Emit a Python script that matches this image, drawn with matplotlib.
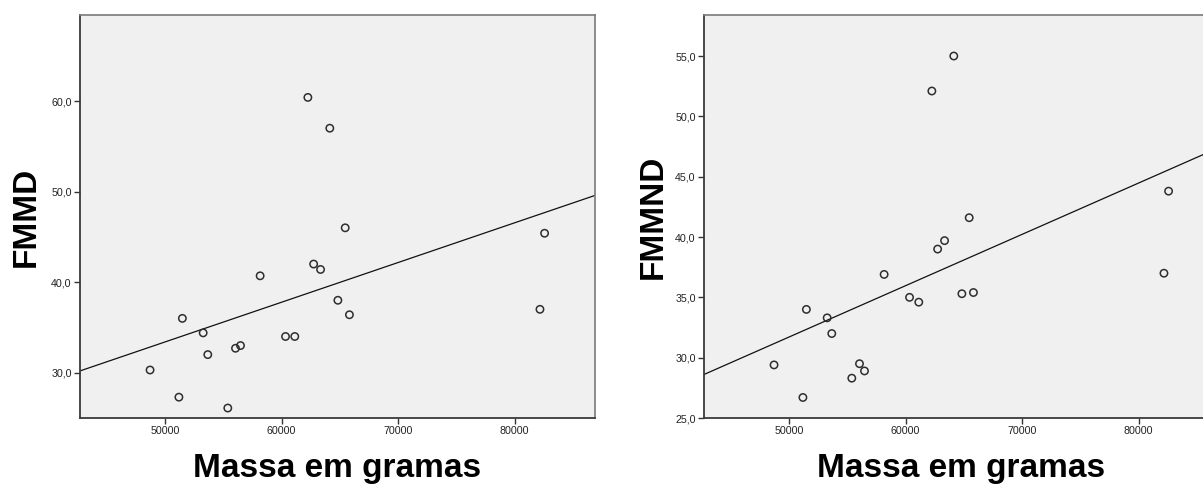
import numpy as np
import matplotlib
matplotlib.use('Agg')
import matplotlib.pyplot as plt
from matplotlib.ticker import FuncFormatter

plt.rcParams['font.family'] = ['Liberation Sans', 'DejaVu Sans']

# Data
massa = [48712, 51189, 51487, 53271, 53667, 55385, 56046, 56475, 58160, 60340,
         61133, 62256, 62752, 63346, 64139, 64833, 65461, 65824, 82176, 82573]
fmmd = [30.3, 27.3, 36.0, 34.4, 32.0, 26.1, 32.7, 33.0, 40.7, 34.0,
        34.0, 60.4, 42.0, 41.4, 57.0, 38.0, 46.0, 36.4, 37.0, 45.4]
fmmnd = [29.4, 26.7, 34.0, 33.3, 32.0, 28.3, 29.5, 28.9, 36.9, 35.0,
         34.6, 52.1, 39.0, 39.7, 55.0, 35.3, 41.6, 35.4, 37.0, 43.8]

x_ticks = [50000, 60000, 70000, 80000]
left_yticks = [30, 40, 50, 60]
right_yticks = [25, 30, 35, 40, 45, 50, 55]

fig = plt.figure(figsize=(12.03, 4.84), dpi=100)

W, H = 1203, 484
ax1 = fig.add_axes([80 / W, (H - 418) / H, 515 / W, 403 / H])
ax2 = fig.add_axes([704 / W, (H - 418) / H, 515 / W, 403 / H])

comma = FuncFormatter(lambda v, p: f'{v:.1f}'.replace('.', ','))


def draw(ax, y, yticks, ylim, ylabel, ylab_x):
    ax.set_facecolor('#f0f0f0')
    xlim = (42700, 86900)
    ax.scatter(massa, y, s=28, facecolors='none', edgecolors='#2e2e2e',
               linewidths=1.1, zorder=3)
    # linear fit line, as in the original
    b, a = np.polyfit(massa, y, 1)
    xs = np.array(xlim)
    ax.plot(xs, a + b * xs, color='#111111', lw=0.9, zorder=2)
    ax.set_xlim(xlim)
    ax.set_ylim(ylim)
    ax.set_xticks(x_ticks)
    ax.set_yticks(yticks)
    ax.yaxis.set_major_formatter(comma)
    ax.tick_params(labelsize=7.7, length=4, width=1, color='#333333',
                   labelcolor='#222222', pad=2)
    for side in ['left', 'bottom']:
        ax.spines[side].set_color('#3a3a3a')
        ax.spines[side].set_linewidth(1.3)
    for side in ['top', 'right']:
        ax.spines[side].set_color('#7a7a7a')
        ax.spines[side].set_linewidth(1.2)
    ax.set_ylabel(ylabel, fontsize=24, fontweight='bold', va='baseline',
                  ha='center', rotation_mode='anchor')
    ax.yaxis.set_label_coords(ylab_x / 515, 0.5)
    ax.set_xlabel('Massa em gramas', fontsize=24, fontweight='bold', va='baseline')
    ax.xaxis.set_label_coords(0.5, -59 / 403)


draw(ax1, fmmd, left_yticks, (25.0, 69.5), 'FMMD', -45.7)
draw(ax2, fmmnd, right_yticks, (25.0, 58.4), 'FMMND', -42.5)

plt.savefig('out.png', dpi=100)
